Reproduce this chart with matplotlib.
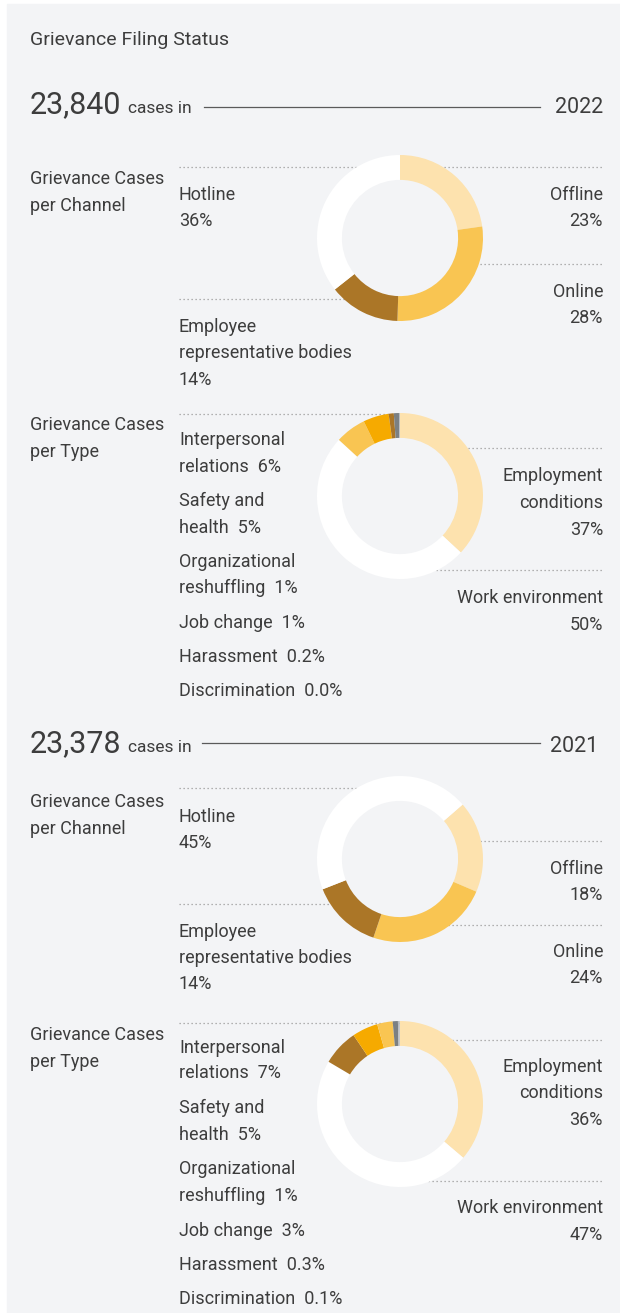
import matplotlib
matplotlib.use("Agg")
import matplotlib.pyplot as plt
from matplotlib.patches import Rectangle, Circle

plt.rcParams['font.family'] = ['Roboto', 'DejaVu Sans']

# ---- data -------------------------------------------------------------
years = ["2022", "2021"]
total_cases = ["23,840", "23,378"]

channel_names = ["Offline", "Online", "Employee representative bodies", "Hotline"]
channel_2022 = [23, 28, 14, 36]
channel_2021 = [18, 24, 14, 45]

type_names_2022 = ["Employment conditions", "Work environment", "Interpersonal relations",
                   "Safety and health", "Organizational reshuffling", "Job change",
                   "Harassment", "Discrimination"]
type_2022 = [37, 50, 6, 5, 1, 1, 0.2, 0.0]

type_names_2021 = ["Employment conditions", "Work environment", "Interpersonal relations",
                   "Safety and health", "Job change", "Organizational reshuffling",
                   "Harassment", "Discrimination"]
type_2021 = [36, 47, 7, 5, 3, 1, 0.3, 0.1]

# ---- styling ----------------------------------------------------------
W, H = 620, 1313
BG = "#F3F4F6"
TXT = "#3d3d3d"
DOT = "#9a9a9a"
LIGHT = "#FDE2AE"
MID = "#F9C552"
ORANGE = "#F6AA00"
BROWN = "#AB7627"
GREY = "#7B8083"
PALE = "#B9BCBE"
WHITE = "#FFFFFF"

channel_colors = [LIGHT, MID, BROWN, WHITE]
type_colors_2022 = [LIGHT, WHITE, MID, ORANGE, BROWN, GREY, PALE, PALE]
type_colors_2021 = [LIGHT, WHITE, BROWN, ORANGE, MID, GREY, PALE, PALE]

R = 83  # outer radius in px
LABEL_FS = 13

fig = plt.figure(figsize=(W / 100, H / 100), dpi=100)
fig.patch.set_facecolor("white")
ax = fig.add_axes([0, 0, 1, 1])
ax.set_xlim(0, W)
ax.set_ylim(H, 0)
ax.axis("off")
ax.add_patch(Rectangle((7, 4), W - 7, H - 4, color=BG, zorder=0))
renderer = fig.canvas.get_renderer()


def text(x, y, s, size=LABEL_FS, ha="left"):
    return ax.text(x, y, s, fontsize=size, color=TXT, ha=ha, va="baseline", zorder=3)


def dotted(x0, x1, y):
    ax.plot([x0, x1], [y, y], color=DOT, lw=0.9, ls=(0, (1, 2.2)), zorder=1,
            solid_capstyle="butt", dash_capstyle="butt")


def donut(cx, cy, values, colors, start):
    dax = fig.add_axes([(cx - R) / W, 1 - (cy + R) / H, 2 * R / W, 2 * R / H])
    dax.set_facecolor("none")
    dax.pie(values, colors=colors, startangle=start, counterclock=False,
            radius=1.0, wedgeprops=dict(width=0.3, linewidth=0))
    dax.add_patch(Circle((0, 0), 0.7, color=BG, zorder=0))
    dax.set_xlim(-1, 1)
    dax.set_ylim(-1, 1)
    dax.set_aspect("equal")
    dax.axis("off")


def header(y_base, y_line, total, year, x_line0, x_year):
    t = text(30, y_base, total, size=22)
    bb = t.get_window_extent(renderer)  # pixel extent, x is unaffected by flipped y
    text(bb.x1 + 6, y_base, "cases in", size=12.5)
    ax.plot([x_line0, 540], [y_line, y_line], color="#5a5a5a", lw=0.9, zorder=1)
    text(x_year, y_base, year, size=15.5, ha="right")


CX = 400
XL, XR = 179, 603

# Title
text(30, 45, "Grievance Filing Status", size=14)

# ================= 2022 =================
header(113, 107, total_cases[0], years[0], 204, 603)

# per channel
text(30, 184, "Grievance Cases")
text(30, 211, "per Channel")
dotted(XL, CX, 167)
dotted(CX, XR, 167)
dotted(CX, XR, 264)
dotted(XL, CX, 299)
donut(CX, 238, channel_2022, channel_colors, 90)
text(XL, 200, channel_names[3].split()[0])
text(XL, 226, f"{channel_2022[3]}%")
text(XR, 200, channel_names[0], ha="right")
text(XR, 226, f"{channel_2022[0]}%", ha="right")
text(XR, 297, channel_names[1], ha="right")
text(XR, 323, f"{channel_2022[1]}%", ha="right")
text(XL, 332, "Employee")
text(XL, 358, "representative bodies")
text(XL, 385, f"{channel_2022[2]}%")

# per type
text(30, 430, "Grievance Cases")
text(30, 457, "per Type")
dotted(XL, CX, 414)
dotted(CX, XR, 448)
dotted(CX, XR, 570)
donut(CX, 496, type_2022, type_colors_2022, 90)
text(XR, 481, "Employment", ha="right")
text(XR, 508, "conditions", ha="right")
text(XR, 535, f"{type_2022[0]:.0f}%", ha="right")
text(XR, 603, "Work environment", ha="right")
text(XR, 630, f"{type_2022[1]:.0f}%", ha="right")
text(XL, 445, "Interpersonal")
text(XL, 472, f"relations  {type_2022[2]:.0f}%")
text(XL, 506, "Safety and")
text(XL, 533, f"health  {type_2022[3]:.0f}%")
text(XL, 567, "Organizational")
text(XL, 593, f"reshuffling  {type_2022[4]:.0f}%")
text(XL, 628, f"Job change  {type_2022[5]:.0f}%")
text(XL, 662, f"Harassment  {type_2022[6]:.1f}%")
text(XL, 696, f"Discrimination  {type_2022[7]:.1f}%")

# ================= 2021 =================
header(752, 743, total_cases[1], years[1], 202, 598)

# per channel
text(30, 807, "Grievance Cases")
text(30, 834, "per Channel")
dotted(XL, CX, 788)
dotted(CX, XR, 841)
dotted(CX, XR, 925)
dotted(XL, CX, 904)
donut(CX, 859, channel_2021, channel_colors, 41)
text(XL, 822, channel_names[3].split()[0])
text(XL, 848, f"{channel_2021[3]}%")
text(XR, 874, channel_names[0], ha="right")
text(XR, 900, f"{channel_2021[0]}%", ha="right")
text(XR, 957, channel_names[1], ha="right")
text(XR, 983, f"{channel_2021[1]}%", ha="right")
text(XL, 937, "Employee")
text(XL, 963, "representative bodies")
text(XL, 989, f"{channel_2021[2]}%")

# per type
text(30, 1040, "Grievance Cases")
text(30, 1067, "per Type")
dotted(XL, CX, 1023)
dotted(CX, XR, 1040)
dotted(CX, XR, 1181)
donut(CX, 1104, type_2021, type_colors_2021, 90)
text(XR, 1072, "Employment", ha="right")
text(XR, 1098, "conditions", ha="right")
text(XR, 1125, f"{type_2021[0]:.0f}%", ha="right")
text(XR, 1213, "Work environment", ha="right")
text(XR, 1240, f"{type_2021[1]:.0f}%", ha="right")
text(XL, 1053, "Interpersonal")
text(XL, 1078, f"relations  {type_2021[2]:.0f}%")
text(XL, 1113, "Safety and")
text(XL, 1140, f"health  {type_2021[3]:.0f}%")
text(XL, 1174, "Organizational")
text(XL, 1201, f"reshuffling  {type_2021[5]:.0f}%")
text(XL, 1236, f"Job change  {type_2021[4]:.0f}%")
text(XL, 1270, f"Harassment  {type_2021[6]:.1f}%")
text(XL, 1304, f"Discrimination  {type_2021[7]:.1f}%")

fig.savefig("out.png", dpi=100, facecolor="white")
